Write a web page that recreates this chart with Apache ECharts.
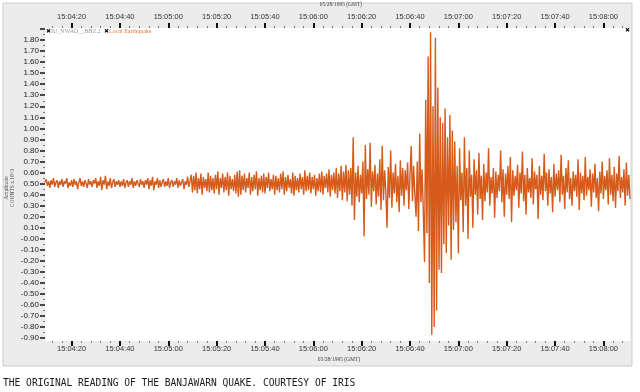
<!DOCTYPE html>
<html lang="en">

<head>
  <meta charset="UTF-8">
  <title>Banjawarn quake seismogram</title>
  <script src="https://cdn.jsdelivr.net/npm/echarts@6/dist/echarts.min.js"></script>
  <style>
    html, body { margin: 0; padding: 0; background: #fff; }
    #echarts { width: 640px; height: 392px; }
  </style>
</head>

<body>
  <div id="echarts"></div>
</body>

</html>
<script>
  // time axis: seconds after 15:04:00 GMT, 05/28/1995
  const xMin = 9, xMax = 251;
  const xTickSeconds = [20, 40, 60, 80, 100, 120, 140, 160, 180, 200, 220, 240];
  const xTickLabels = ['15:04:20', '15:04:40', '15:05:00', '15:05:20', '15:05:40', '15:06:00',
    '15:06:20', '15:06:40', '15:07:00', '15:07:20', '15:07:40', '15:08:00'];
  const xMinorSeconds = [12, 16, 24, 28, 32, 36, 44, 48, 52, 56, 64, 68, 72, 76, 84, 88, 92, 96,
    104, 108, 112, 116, 124, 128, 132, 136, 144, 148, 152, 156, 164, 168, 172, 176,
    184, 188, 192, 196, 204, 208, 212, 216, 224, 228, 232, 236, 244, 248];

  // amplitude axis (COUNTS x 10^3)
  const yMin = -0.926, yMax = 1.909;
  const yTickValues = [-0.9, -0.8, -0.7, -0.6, -0.5, -0.4, -0.3, -0.2, -0.1, 0, 0.1, 0.2, 0.3, 0.4,
    0.5, 0.6, 0.7, 0.8, 0.9, 1.0, 1.1, 1.2, 1.3, 1.4, 1.5, 1.6, 1.7, 1.8];
  const yTickLabels = ['-0.90', '-0.80', '-0.70', '-0.60', '-0.50', '-0.40', '-0.30', '-0.20', '-0.10',
    '-0.00', '0.10', '0.20', '0.30', '0.40', '0.50', '0.60', '0.70', '0.80', '0.90', '1.00', '1.10',
    '1.20', '1.30', '1.40', '1.50', '1.60', '1.70', '1.80'];

  // trace, sampled every 0.5 s, amplitude in hundredths
  const sampleStep = 0.5;
  const preEvent = [ // 9.0 .. 69.0 s
    51, 54, 48, 52, 46, 53, 49, 55, 47, 51, 53, 46, 52, 49, 54, 47, 52, 50, 55, 46, 51,
    48, 53, 47, 54, 49, 52, 45, 51, 55, 48, 52, 47, 53, 50, 46, 54, 49, 52, 47, 53, 50,
    55, 46, 52, 48, 56, 44, 53, 49, 57, 45, 52, 48, 55, 46, 51, 54, 47, 52, 49, 53, 47,
    52, 48, 54, 46, 51, 53, 47, 52, 49, 55, 46, 52, 48, 53, 50, 47, 54, 49, 52, 46, 53,
    49, 55, 45, 53, 48, 56, 44, 52, 49, 55, 46, 53, 47, 51, 54, 47, 52, 48, 55, 46, 51,
    53, 47, 52, 49, 55, 46, 53, 48, 51, 54, 45, 52, 49, 56, 47, 52
  ];
  const pWave = [ // 69.5 .. 135.0 s
    58, 42, 57, 44, 60, 41, 55, 45, 59, 40, 56, 46,
    54, 43, 60, 42, 57, 44, 55, 41, 58, 45, 61, 40,
    55, 46, 59, 42, 56, 44, 60, 39, 57, 45, 54, 43,
    58, 41, 61, 38, 62, 40, 57, 44, 59, 42, 55, 46,
    60, 40, 56, 43, 58, 45, 61, 39, 55, 44, 57, 42,
    59, 41, 56, 46, 60, 43, 54, 45, 58, 40, 57, 44,
    55, 42, 59, 45, 61, 40, 56, 43, 58, 46, 54, 41,
    60, 39, 57, 44, 55, 42, 59, 45, 56, 40, 62, 43,
    57, 44, 60, 41, 56, 45, 58, 39, 55, 43, 59, 42,
    61, 40, 57, 46, 59, 42, 63, 38, 58, 44, 60, 41,
    64, 37, 59, 43, 66, 35, 61, 42, 67, 34, 62, 40
  ];
  const sWave = [ // 135.5 .. 165.5 s
    64, 30, 92, 17, 60, 38, 66, 33, 58, 41, 70,
    2, 85, 36, 63, 40, 87, 29, 61, 43, 67, 31,
    59, 38, 72, 26, 84, 35, 62, 42, 10, 65, 37,
    80, 28, 60, 41, 68, 33, 57, 24, 71, 39, 64,
    30, 62, 44, 69, 27, 58, 84, 34, 66, 40, 20,
    70, 7, 95, 33, 63, 25
  ];
  const mainShock = [ // 166.0 .. 178.0 s
    -21, 126, 5, 165, -40, 187, -87, 120, -80, 182, -65, 137, -28,
    110, -31, 105, -5, 118, -13, 92, 12, 112, -19, 98, 8
  ];
  const coda = [ // 178.5 .. 251.0 s
    88, 15, 66, -13, 82, 35, 60, 6, 92, 30, 64, 0,
    80, 38, 58, 10, 72, 40, 62, 22, 78, 36, 57, 17,
    68, 34, 60, 42, 82, 30, 56, 41, 64, 19, 61, 37,
    58, 43, 80, 33, 63, 20, 59, 40, 66, 36, 74, 15,
    62, 39, 57, 44, 67, 28, 60, 41, 79, 34, 58, 22,
    64, 42, 55, 37, 73, 31, 61, 45, 58, 18, 66, 40,
    57, 35, 77, 43, 60, 30, 63, 41, 56, 24, 68, 38,
    59, 44, 62, 33, 76, 40, 57, 27, 64, 42, 71, 36,
    55, 30, 61, 43, 58, 38, 72, 26, 60, 41, 57, 35,
    74, 39, 56, 44, 63, 29, 59, 42, 68, 37, 55, 25,
    61, 41, 70, 36, 57, 44, 62, 31, 73, 40, 58, 34,
    65, 28, 59, 43, 75, 37, 56, 42, 63, 30, 69, 39,
    58, 36
  ];

  const trace = [].concat(preEvent, pWave, sWave, mainShock, coda)
    .map((v, i) => [xMin + i * sampleStep, v / 100]);

  let myChart = echarts.init(document.getElementById('echarts'));

  const tickFont = { fontSize: 7.5, color: '#333', fontFamily: 'Liberation Sans, Arial, sans-serif' };

  function timeAxis(position, minor) {
    return {
      type: 'value', position: position, min: xMin, max: xMax,
      axisLine: { show: false, onZero: false },
      splitLine: { show: false },
      axisTick: {
        show: true, customValues: minor ? xMinorSeconds : xTickSeconds,
        length: minor ? 2 : 5, lineStyle: { color: minor ? '#777' : '#111', width: minor ? 1 : 2 }
      },
      axisLabel: minor ? { show: false } : Object.assign({
        customValues: xTickSeconds,
        margin: position === 'top' ? 7 : 4,
        formatter: v => xTickLabels[xTickSeconds.indexOf(v)]
      }, tickFont)
    };
  }

  function ampAxis(minor) {
    return {
      type: 'value', position: 'left', min: yMin, max: yMax,
      axisLine: { show: false, onZero: false },
      splitLine: { show: false },
      axisTick: {
        show: true,
        customValues: minor ? yTickValues.map(v => v + 0.05) : yTickValues.concat([1.9]),
        length: minor ? 2 : 5, lineStyle: { color: minor ? '#777' : '#111', width: minor ? 1 : 1.5 }
      },
      axisLabel: minor ? { show: false } : Object.assign({
        customValues: yTickValues, margin: 6,
        formatter: v => yTickLabels[yTickValues.findIndex(t => Math.abs(t - v) < 1e-6)]
      }, tickFont, { fontSize: 8, color: '#222' })
    };
  }

  myChart.setOption({
    animation: false,
    backgroundColor: '#fff',
    grid: {
      left: 45, right: 10, top: 28, bottom: 51,
      show: true, backgroundColor: '#fff', borderWidth: 0
    },
    xAxis: [timeAxis('bottom', false), timeAxis('bottom', true), timeAxis('top', false), timeAxis('top', true)],
    yAxis: [ampAxis(false), ampAxis(true)],
    graphic: [
      { type: 'rect', z: -10, shape: { x: 3, y: 3, width: 629, height: 363 },
        style: { fill: '#ececec', stroke: '#cdcdcd', lineWidth: 1 } },
      { type: 'text', x: 341, y: 5, style: { text: '05/28/1995 (GMT)', fontSize: 5.5, fill: '#444', align: 'center', verticalAlign: 'middle', fontFamily: 'Liberation Serif, serif' } },
      { type: 'text', x: 339, y: 360, style: { text: '05/28/1995 (GMT)', fontSize: 5.5, fill: '#444', align: 'center', verticalAlign: 'middle', fontFamily: 'Liberation Serif, serif' } },
      { type: 'text', x: 48, y: 31, style: { text: '✖', fontSize: 6, fill: '#111', align: 'center', verticalAlign: 'middle' } },
      { type: 'text', x: 51, y: 31, style: { text: 'IU_NWAO__BHZ.2', fontSize: 6, fill: '#9a9a9a', verticalAlign: 'middle', fontFamily: 'Liberation Serif, serif' } },
      { type: 'text', x: 106, y: 31, style: { text: '✖', fontSize: 6, fill: '#111', align: 'center', verticalAlign: 'middle' } },
      { type: 'text', x: 109, y: 31, style: { text: 'Local Earthquake', fontSize: 6, fill: '#e0783a', verticalAlign: 'middle', fontFamily: 'Liberation Serif, serif' } },
      { type: 'text', x: 627, y: 30, style: { text: '✖', fontSize: 6, fill: '#111', align: 'center', verticalAlign: 'middle' } },
      { type: 'text', x: 7, y: 188, rotation: Math.PI / 2, style: { text: 'Amplitude', fontSize: 5.5, fill: '#444', align: 'center', verticalAlign: 'middle', fontFamily: 'Liberation Serif, serif' } },
      { type: 'text', x: 13, y: 188, rotation: Math.PI / 2, style: { text: 'COUNTS x 10^3', fontSize: 5.5, fill: '#444', align: 'center', verticalAlign: 'middle', fontFamily: 'Liberation Serif, serif' } },
      { type: 'text', x: 3, y: 383, style: { text: 'THE ORIGINAL READING OF THE BANJAWARN QUAKE. COURTESY OF IRIS', fontSize: 9.6, fill: '#1a1a1a', verticalAlign: 'middle', fontFamily: 'DejaVu Sans Mono, monospace' } }
    ],
    series: [{
      type: 'line',
      data: trace,
      showSymbol: false,
      clip: false,
      sampling: null,
      lineStyle: { color: '#d65a1a', width: 1.4 }
    }]
  });
</script>
